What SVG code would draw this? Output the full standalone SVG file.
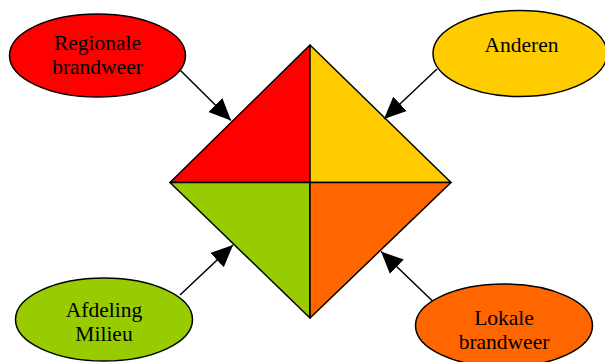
<svg xmlns="http://www.w3.org/2000/svg" width="605" height="362" viewBox="0 0 605 362">
<defs>
<style>
.sh{stroke:#000;stroke-width:1.5;stroke-linejoin:round}
.t{font-family:"Liberation Serif","Times New Roman",serif;font-size:21.5px;fill:#000;text-anchor:middle}
.c{stroke:#000;stroke-width:1.5;fill:none}
</style>
<marker id="ah" markerUnits="userSpaceOnUse" markerWidth="22" markerHeight="22" viewBox="0 0 20 20" refX="20" refY="10" orient="auto">
<polygon points="0,1 20,10 0,19" fill="#000"/>
</marker>
</defs>
<rect width="605" height="362" fill="#fff"/>
<g id="diamond">
<polygon class="sh" points="310,45 170,182.5 310,182.5" fill="#FF0000"/>
<polygon class="sh" points="310,45 451,182.5 310,182.5" fill="#FFCC00"/>
<polygon class="sh" points="170,182.5 310,182.5 310,318" fill="#99CC00"/>
<polygon class="sh" points="451,182.5 310,182.5 310,318" fill="#FF6600"/>
</g>
<g id="connectors">
<line class="c" x1="180" y1="70" x2="231" y2="120.5" marker-end="url(#ah)"/>
<line class="c" x1="437" y1="69" x2="384" y2="119" marker-end="url(#ah)"/>
<line class="c" x1="180" y1="295" x2="233" y2="245" marker-end="url(#ah)"/>
<line class="c" x1="433" y1="301.5" x2="381" y2="251.5" marker-end="url(#ah)"/>
</g>
<g id="regionale">
<ellipse class="sh" cx="97.5" cy="55.5" rx="88" ry="41.5" fill="#FF0000"/>
<text class="t" x="97.5" y="50">Regionale</text>
<text class="t" x="97.5" y="74">brandweer</text>
</g>
<g id="anderen">
<ellipse class="sh" cx="520" cy="53.5" rx="87" ry="43" fill="#FFCC00"/>
<text class="t" x="521.5" y="51.5">Anderen</text>
</g>
<g id="milieu">
<ellipse class="sh" cx="104" cy="319.5" rx="88.5" ry="41.5" fill="#99CC00"/>
<text class="t" x="104" y="317">Afdeling</text>
<text class="t" x="104" y="341">Milieu</text>
</g>
<g id="lokale">
<ellipse class="sh" cx="504" cy="325.5" rx="88.5" ry="41.5" fill="#FF6600"/>
<text class="t" x="504" y="325">Lokale</text>
<text class="t" x="504" y="349">brandweer</text>
</g>
</svg>
